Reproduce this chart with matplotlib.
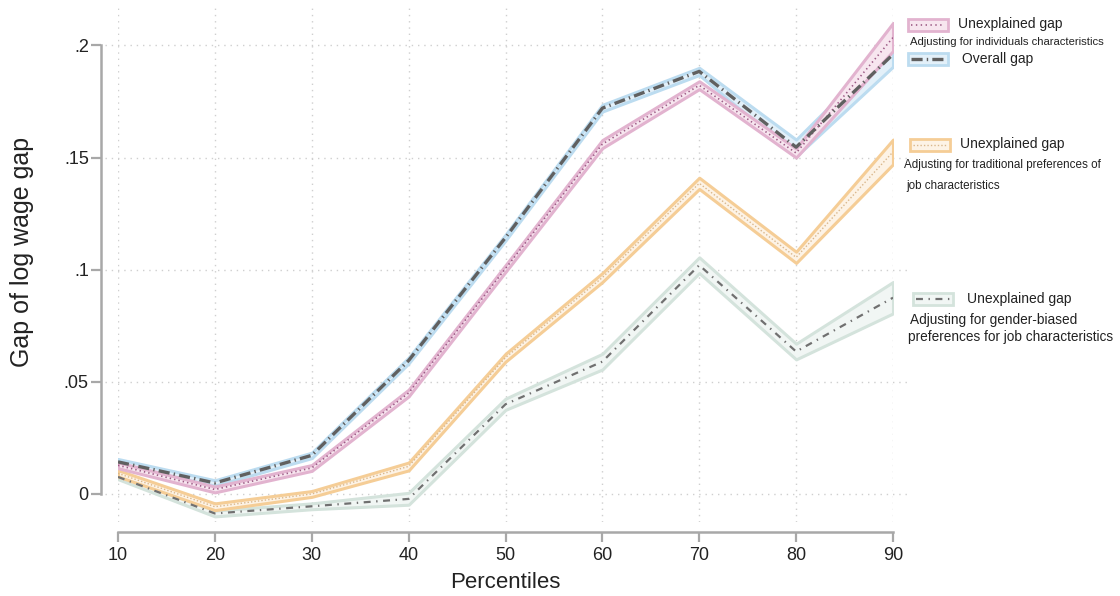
import numpy as np
import matplotlib.pyplot as plt
from matplotlib.patches import Rectangle
from matplotlib.lines import Line2D

plt.rcParams['font.family'] = ['Liberation Sans', 'DejaVu Sans']
plt.rcParams['lines.scale_dashes'] = False

# percentiles
pct = [10, 20, 30, 40, 50, 60, 70, 80, 90]

# overall gap
overall = [0.0143, 0.0049, 0.0172, 0.0595, 0.1143, 0.1720, 0.1884, 0.1546, 0.1960]
overall_lo = [0.0130, 0.0037, 0.0160, 0.0582, 0.1130, 0.1705, 0.1868, 0.1505, 0.1905]
overall_hi = [0.0156, 0.0061, 0.0184, 0.0608, 0.1156, 0.1735, 0.1900, 0.1580, 0.2010]

# unexplained gap, individual characteristics
indiv = [0.0128, 0.0020, 0.0116, 0.0450, 0.1005, 0.1560, 0.1822, 0.1520, 0.2035]
indiv_lo = [0.0115, 0.0007, 0.0103, 0.0435, 0.0990, 0.1542, 0.1805, 0.1500, 0.1975]
indiv_hi = [0.0141, 0.0033, 0.0129, 0.0465, 0.1020, 0.1578, 0.1840, 0.1540, 0.2100]

# unexplained gap, traditional preferences
trad = [0.0092, -0.0057, 0.0000, 0.0123, 0.0608, 0.0965, 0.1385, 0.1055, 0.1525]
trad_lo = [0.0078, -0.0072, -0.0013, 0.0105, 0.0590, 0.0945, 0.1360, 0.1030, 0.1470]
trad_hi = [0.0106, -0.0042, 0.0013, 0.0140, 0.0625, 0.0985, 0.1410, 0.1080, 0.1580]

# unexplained gap, gender-biased preferences
gend = [0.0076, -0.0087, -0.0055, -0.0022, 0.0400, 0.0590, 0.1020, 0.0635, 0.0875]
gend_lo = [0.0066, -0.0100, -0.0068, -0.0048, 0.0375, 0.0555, 0.0985, 0.0600, 0.0805]
gend_hi = [0.0086, -0.0074, -0.0042, 0.0005, 0.0425, 0.0625, 0.1055, 0.0670, 0.0945]

yticks = [0, 0.05, 0.1, 0.15, 0.2]
ytick_labels = ['0', '.05', '.1', '.15', '.2']

W, H = 1120, 596
fig = plt.figure(figsize=(W / 100, H / 100), dpi=100)
ax = fig.add_axes([118 / W, 1 - 522 / H, (893 - 118) / W, (522 - 5) / H])

# colours
pink_e, pink_f, pink_l = '#e2b3cf', '#f7e6ef', '#9c5a85'
blue_e, blue_f = '#bcdcf0', '#e3f0f9'
orng_e, orng_f, orng_l = '#f5cd96', '#fdf3e6', '#d9b78c'
gray_e, gray_f = '#d4e3dc', '#f1f6f4'
dark = '#606060'
grid_c = '#cfcfcf'

# grid
for x in pct:
    ax.axvline(x, color=grid_c, lw=1, ls=(0, (1, 3.5)), zorder=0)
for y in yticks:
    ax.axhline(y, xmin=-0.017, xmax=1.02, color=grid_c, lw=1, ls=(0, (1, 3.5)), zorder=0, clip_on=False)

# bands
ax.fill_between(pct, gend_lo, gend_hi, facecolor=gray_f, edgecolor=gray_e, lw=2.2, zorder=1)
ax.fill_between(pct, trad_lo, trad_hi, facecolor=orng_f, edgecolor=orng_e, lw=2.2, zorder=2)
ax.fill_between(pct, overall_lo, overall_hi, facecolor=blue_f, edgecolor=blue_e, lw=2.2, zorder=3)
ax.fill_between(pct, indiv_lo, indiv_hi, facecolor=pink_f, edgecolor=pink_e, lw=2.2, zorder=4)

# lines
ax.plot(pct, gend, color='#707070', lw=1.6, ls=(0, (5, 4, 1, 4)), zorder=5)
ax.plot(pct, trad, color=orng_l, lw=1.0, ls=(0, (1, 1.5)), zorder=5)
ax.plot(pct, indiv, color=pink_l, lw=1.2, ls=(0, (1, 2.2)), zorder=6)
ax.plot(pct, overall, color=dark, lw=2.4, ls=(0, (8, 3, 1, 3)), zorder=7)

ax.set_xlim(10, 90)
ax.set_ylim(-0.0125, 0.218)
ax.set_xticks(pct)
ax.set_yticks(yticks)
ax.set_yticklabels(ytick_labels)

for s in ['top', 'right']:
    ax.spines[s].set_visible(False)
ax.spines['left'].set_position(('outward', 12))
ax.spines['left'].set_bounds(0, 0.2)
ax.spines['bottom'].set_position(('outward', 7))
ax.spines['bottom'].set_bounds(10, 90)
for s in ['left', 'bottom']:
    ax.spines[s].set_color('#a8a8a8')
    ax.spines[s].set_linewidth(1.8)
ax.tick_params(axis='both', colors='#a8a8a8', width=1.6, length=7, labelcolor='#222222', labelsize=13)
ax.tick_params(axis='y', pad=2)
ax.tick_params(axis='x', pad=4)

ax.set_xlabel('Percentiles', fontsize=16, color='#222222', labelpad=6)
fig.text(22 / W, 1 - 252 / H, 'Gap of log wage gap', fontsize=18, color='#222222',
         rotation=90, ha='center', va='center')


# legend built by hand in pixel coordinates
def fx(x):
    return x / W


def fy(y):
    return 1 - y / H


def handle(x0, yc, ec, fc, color, lw, ls):
    fig.add_artist(Rectangle((fx(x0), fy(yc + 6)), 40 / W, 12 / H, facecolor=fc,
                             edgecolor=ec, lw=2, transform=fig.transFigure))
    fig.add_artist(Line2D([fx(x0 + 3), fx(x0 + 37)], [fy(yc), fy(yc)], color=color, lw=lw,
                          ls=ls, transform=fig.transFigure))


def txt(x, y, s, size):
    fig.text(fx(x), fy(y), s, fontsize=size, color='#222222', va='center', ha='left')


handle(908, 25, pink_e, pink_f, pink_l, 1.2, (0, (1, 2.5)))
txt(958, 24, 'Unexplained gap', 10)
txt(910, 42, 'Adjusting for individuals characteristics', 8.1)
handle(908, 59, blue_e, blue_f, dark, 2.4, (0, (8, 3, 1, 3)))
txt(962, 59, 'Overall gap', 10)

handle(910, 145, orng_e, orng_f, orng_l, 1.0, (0, (1, 1.5)))
txt(960, 144, 'Unexplained gap', 10)
txt(904, 165, 'Adjusting for traditional preferences of', 8.4)
txt(906, 186, 'job characteristics', 8.4)

handle(913, 299, gray_e, gray_f, '#707070', 1.6, (0, (5, 4, 1, 4)))
txt(967, 299, 'Unexplained gap', 10)
txt(910, 320, 'Adjusting for gender-biased', 9.8)
txt(908, 337, 'preferences for job characteristics', 9.8)

fig.savefig('out.png', dpi=100)
